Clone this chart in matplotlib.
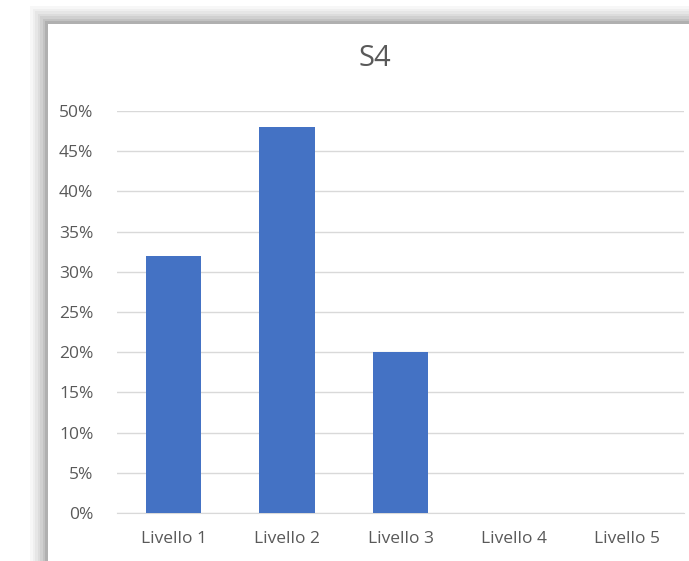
import matplotlib.pyplot as plt
from matplotlib.patches import Rectangle
from matplotlib.ticker import PercentFormatter

categories = ['Livello 1', 'Livello 2', 'Livello 3', 'Livello 4', 'Livello 5']
values = [0.32, 0.48, 0.20, 0.0, 0.0]
yticks = [0.0, 0.05, 0.10, 0.15, 0.20, 0.25, 0.30, 0.35, 0.40, 0.45, 0.50]

plt.rcParams['font.family'] = ['Open Sans', 'DejaVu Sans']

W, H = 689, 561
fig = plt.figure(figsize=(W / 100, H / 100), dpi=100)
fig.patch.set_facecolor('white')

# soft shadow on the top and left of the chart box
shades = ['#f7f7f7', '#efefef', '#e6e6e6', '#dcdcdc', '#d0d0d0', '#c2c2c2', '#b0b0b0']
for i, c in enumerate(shades):
    off = 18 - i * 2.5
    fig.patches.append(Rectangle(((48 - off) / W, 0), 1, (H - 24 + off) / H,
                                 transform=fig.transFigure, facecolor=c,
                                 edgecolor='none', zorder=-5))
fig.patches.append(Rectangle((48 / W, 0), 1, (H - 24) / H,
                             transform=fig.transFigure, facecolor='white',
                             edgecolor='none', zorder=-4))

ax = fig.add_axes([117 / W, 48 / H, 567 / W, 402 / H])
ax.set_zorder(2)
ax.set_facecolor('none')
x = range(len(categories))
ax.bar(x, values, width=0.49, color='#4472C4', zorder=3)

ax.set_xlim(-0.5, len(categories) - 0.5)
ax.set_ylim(0, 0.5)
ax.set_yticks(yticks)
ax.yaxis.set_major_formatter(PercentFormatter(1.0, decimals=0))
ax.set_xticks(list(x))
ax.set_xticklabels(categories)
ax.grid(axis='y', color='#d9d9d9', linewidth=1, zorder=0)
for s in ['top', 'right', 'left']:
    ax.spines[s].set_visible(False)
ax.spines['bottom'].set_color('#d9d9d9')
ax.tick_params(axis='both', length=0, colors='#595959', labelsize=12.5)
ax.tick_params(axis='y', pad=17)
ax.tick_params(axis='x', pad=13)

fig.text(375 / W, 1 - 58 / H, 'S4', ha='center', va='center',
         fontsize=21, color='#595959', zorder=3)

fig.savefig('out.png', dpi=100)
